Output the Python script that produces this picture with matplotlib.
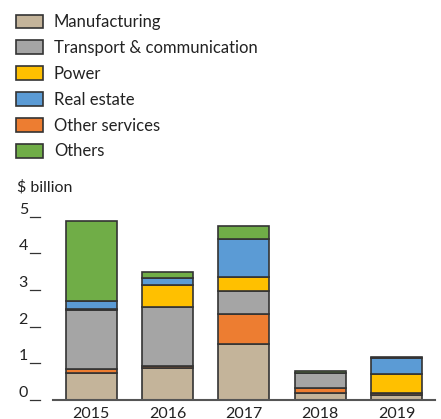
import matplotlib.pyplot as plt
from matplotlib.transforms import blended_transform_factory

plt.rcParams['font.family'] = ['Lato', 'DejaVu Sans']

years = ["2015", "2016", "2017", "2018", "2019"]
sectors = ["Manufacturing", "Transport & communication", "Power",
           "Real estate", "Other services", "Others"]
colors = ["#C4B49A", "#A5A5A5", "#FFC000", "#5B9BD5", "#ED7D31", "#70AD47"]

manufacturing = [0.73, 0.86, 1.54, 0.18, 0.15]
other_services = [0.12, 0.07, 0.80, 0.16, 0.04]
transport = [1.60, 1.61, 0.63, 0.41, 0.00]
power = [0.03, 0.60, 0.38, 0.00, 0.51]
real_estate = [0.23, 0.18, 1.04, 0.00, 0.45]
others = [2.18, 0.18, 0.35, 0.05, 0.02]

# bottom-to-top stacking order
stack = [("Manufacturing", manufacturing), ("Other services", other_services),
         ("Transport & communication", transport), ("Power", power),
         ("Real estate", real_estate), ("Others", others)]

fig = plt.figure(figsize=(4.41, 4.19), dpi=100)
ax = fig.add_axes([0.120, 0.0453, 0.866, 0.455])

x = list(range(len(years)))
bottom = [0.0] * len(years)
handles = {}
for name, vals in stack:
    c = colors[sectors.index(name)]
    bars = ax.bar(x, vals, bottom=bottom, width=0.67, color=c,
                  edgecolor="#333333", linewidth=1.2, label=name)
    handles[name] = bars
    bottom = [b + v for b, v in zip(bottom, vals)]

ax.set_xlim(-0.5, 4.5)
ax.set_ylim(0, 5.2)
ax.set_xticks(x)
ax.set_xticklabels(years, fontsize=11.5, color="#222222")
ax.tick_params(axis="x", length=0, pad=5)
ax.set_yticks([0, 1, 2, 3, 4, 5])
ax.set_yticklabels(["0", "1", "2", "3", "4", "5"], fontsize=11.5,
                   color="#222222")
ax.tick_params(axis="y", length=0, pad=18)
for lab in ax.get_yticklabels():
    lab.set_va("bottom")

# short detached tick dashes
tr = blended_transform_factory(ax.transAxes, ax.transData)
for t in range(6):
    ax.plot([-0.060, -0.034], [t, t], color="#333333", lw=0.9,
            transform=tr, clip_on=False)

for s in ["left", "right", "top"]:
    ax.spines[s].set_visible(False)
ax.spines["bottom"].set_color("#555555")
ax.spines["bottom"].set_linewidth(1.5)

fig.text(0.038, 0.552, "$ billion", fontsize=11.5, color="#222222",
         va="center", ha="left")

fig.legend([handles[s] for s in sectors], sectors, loc="upper left",
           bbox_to_anchor=(0.036, 0.966), frameon=False, fontsize=12,
           handlelength=1.62, handleheight=0.9, labelspacing=0.59,
           handletextpad=0.66, borderaxespad=0, borderpad=0,
           labelcolor="#222222")

fig.savefig("out.png", dpi=100)
